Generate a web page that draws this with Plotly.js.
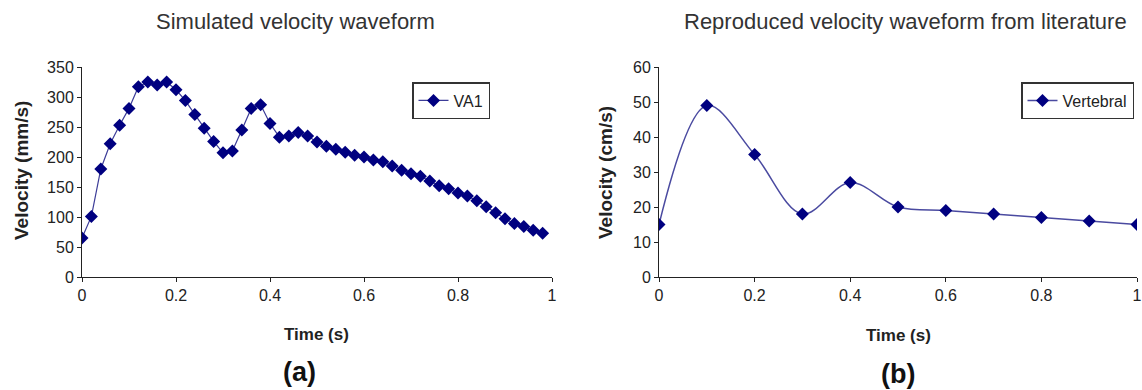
<!DOCTYPE html>
<html>
<head>
<meta charset="utf-8">
<script src="https://cdn.plot.ly/plotly-3.0.1.min.js"></script>
<style>html,body{margin:0;padding:0;background:#fff;}#chart{width:1142px;height:390px;}</style>
</head>
<body>
<div id="chart"></div>
<script>
// Panel (a): simulated velocity waveform (mm/s)
const timeA = [0,0.02,0.04,0.06,0.08,0.10,0.12,0.14,0.16,0.18,0.20,0.22,0.24,0.26,0.28,0.30,0.32,0.34,0.36,0.38,0.40,0.42,0.44,0.46,0.48,0.50,0.52,0.54,0.56,0.58,0.60,0.62,0.64,0.66,0.68,0.70,0.72,0.74,0.76,0.78,0.80,0.82,0.84,0.86,0.88,0.90,0.92,0.94,0.96,0.98];
const velocityA = [65,101,180,222,253,281,317,325,320,325,312,294,271,248,226,207,210,245,281,287,256,233,235,241,235,225,218,213,208,203,200,195,192,185,178,172,168,160,152,147,140,135,127,117,107,97,89,84,78,73];
// Panel (b): reproduced velocity waveform from literature (cm/s)
const timeB = [0,0.1,0.2,0.3,0.4,0.5,0.6,0.7,0.8,0.9,1.0];
const velocityB = [15,49,35,18,27,20,19,18,17,16,15];

const seriesA = "VA1";
const seriesB = "Vertebral";
const titleA = "Simulated velocity waveform";
const titleB = "Reproduced velocity waveform from literature";
const xTitle = "Time (s)";
const yTitleA = "Velocity (mm/s)";
const yTitleB = "Velocity (cm/s)";
const tickValsX = [0,0.2,0.4,0.6,0.8,1];
const tickTextX = ["0","0.2","0.4","0.6","0.8","1"];

const FONT = "Liberation Sans, Arial, sans-serif";
const W = 1142, H = 390;
const px = x => x / W;
const py = y => 1 - y / H;

const markerStyle = {symbol: "diamond", size: 10, color: "#000080", line: {width: 0}};

const traces = [
  {x: timeA, y: velocityA, name: seriesA, type: "scatter", mode: "lines+markers",
   xaxis: "x", yaxis: "y", legend: "legend",
   line: {color: "#3c3c98", width: 1.2}, marker: markerStyle},
  {x: timeB, y: velocityB, name: seriesB, type: "scatter", mode: "lines+markers",
   xaxis: "x2", yaxis: "y2", legend: "legend2",
   line: {color: "#4a4aa0", width: 1.5, shape: "spline", smoothing: 1}, marker: markerStyle}
];

const axisCommon = {
  showline: true, linecolor: "#222", linewidth: 1,
  ticks: "outside", ticklen: 4, tickcolor: "#222", tickwidth: 1,
  showgrid: false, zeroline: false,
  tickfont: {family: FONT, size: 16, color: "#222"}, fixedrange: true
};

const yDom = [py(277), py(67)];

const legendCommon = {xanchor: "left", yanchor: "top", bgcolor: "#fff",
  bordercolor: "#333", borderwidth: 1.5, font: {family: FONT, size: 16, color: "#222"},
  itemwidth: 30, tracegroupgap: 0};

function label(text, x, y, size, color, angle) {
  return {text: text, x: px(x), y: py(y), xref: "paper", yref: "paper",
          xanchor: "center", yanchor: "middle", showarrow: false,
          textangle: angle || 0, font: {family: FONT, size: size, color: color}};
}

const layout = {
  width: W, height: H,
  margin: {l: 0, r: 0, t: 0, b: 0},
  paper_bgcolor: "#fff", plot_bgcolor: "#fff",
  font: {family: FONT, color: "#222"},
  xaxis: Object.assign({}, axisCommon, {domain: [px(82), px(552)], range: [0, 1], tickvals: tickValsX, ticktext: tickTextX, anchor: "y"}),
  yaxis: Object.assign({}, axisCommon, {domain: yDom, range: [0, 350], dtick: 50, anchor: "x"}),
  xaxis2: Object.assign({}, axisCommon, {domain: [px(659), px(1137)], range: [0, 1], tickvals: tickValsX, ticktext: tickTextX, anchor: "y2"}),
  yaxis2: Object.assign({}, axisCommon, {domain: yDom, range: [0, 60], dtick: 10, anchor: "x2"}),
  showlegend: true,
  legend: Object.assign({}, legendCommon, {x: px(412), y: py(82)}),
  legend2: Object.assign({}, legendCommon, {x: px(1021), y: py(82)}),
  annotations: [
    label(titleA, 296, 21, 22, "#333"),
    label(titleB, 905, 21, 22, "#333"),
    label("<b>" + xTitle + "</b>", 316, 334, 17, "#222"),
    label("<b>" + xTitle + "</b>", 898, 335, 17, "#222"),
    label("<b>" + yTitleA + "</b>", 21, 171, 19, "#222", -90),
    label("<b>" + yTitleB + "</b>", 605, 173, 19, "#222", -90),
    label("<b>(a)</b>", 299, 372, 27, "#111"),
    label("<b>(b)</b>", 898, 374, 27, "#111")
  ]
};

Plotly.newPlot("chart", traces, layout, {displayModeBar: false, staticPlot: true});
</script>
</body>
</html>
